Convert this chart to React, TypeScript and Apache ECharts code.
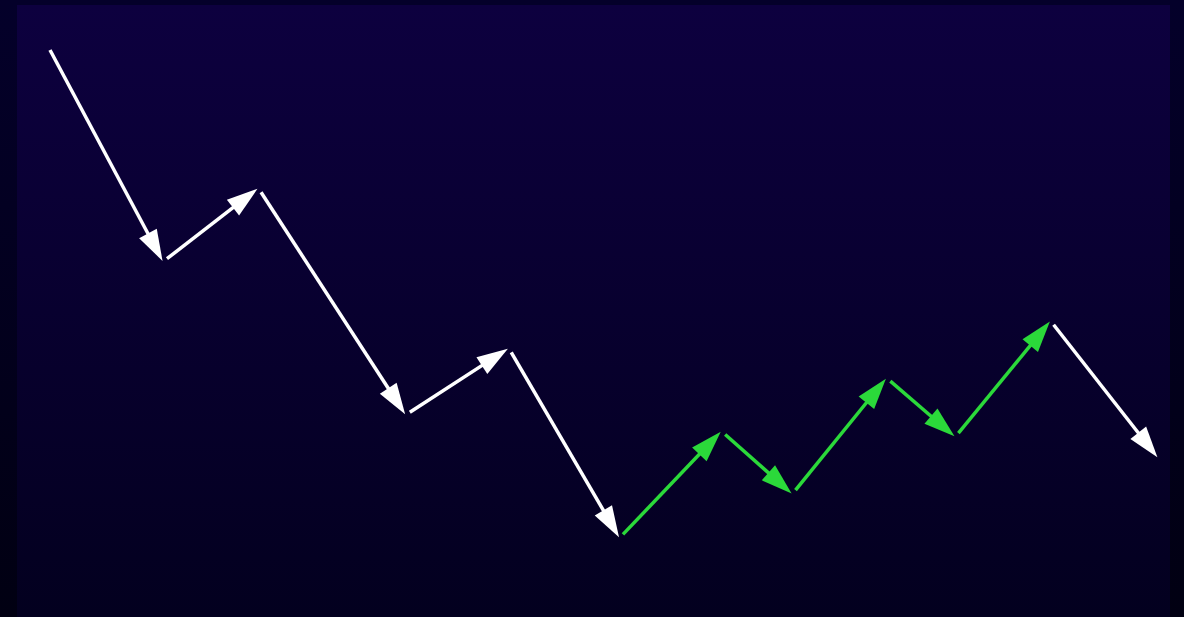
import React, { useEffect, useRef } from "react";
import * as echarts from "echarts";

// Zig-zag path: time (x) and price level (y) of each turning point
const times = [0, 10.2, 18.8, 32.1, 41.4, 51.4, 60.6, 67.0, 75.5, 81.7, 90.3, 100];
const levels = [100, 56.6, 71.7, 25.2, 38.9, 0, 21.9, 9.0, 32.8, 20.7, 44.5, 16.4];
// colour group of each leg (w = white, g = green)
const legKinds = ["w", "w", "w", "w", "w", "g", "g", "g", "g", "g", "w"];

const COLORS: Record<string, string> = { w: "#ffffff", g: "#2bd93a" };

export default function App() {
  const ref = useRef<HTMLDivElement>(null);
  useEffect(() => {
    document.body.style.margin = "0";
    const chart = echarts.init(ref.current!, null, { renderer: "svg" });
    const base: any = {
      animation: false,
      backgroundColor: new echarts.graphic.LinearGradient(0, 0, 0, 1, [
        { offset: 0, color: "#04002a" },
        { offset: 1, color: "#010012" },
      ]),
      graphic: [
        {
          type: "rect",
          z: -10,
          silent: true,
          shape: { x: 17, y: 5, width: 1153, height: 612 },
          style: {
            fill: new echarts.graphic.LinearGradient(0, 0, 0, 1, [
              { offset: 0, color: "#0d003f" },
              { offset: 1, color: "#03001f" },
            ]),
          },
        },
      ],
      grid: { left: 50, right: 26, top: 50, bottom: 79 },
      xAxis: { type: "value", min: 0, max: 100, show: false },
      yAxis: { type: "value", min: 0, max: 100, show: false },
      series: [],
    };
    chart.setOption(base);

    const headLen = 31;
    const headWidth = 20;
    const data = legKinds.map((k, i) => {
      const p0 = chart.convertToPixel({ gridIndex: 0 }, [times[i], levels[i]]) as number[];
      const p1 = chart.convertToPixel({ gridIndex: 0 }, [times[i + 1], levels[i + 1]]) as number[];
      const dx = p1[0] - p0[0];
      const dy = p1[1] - p0[1];
      const len = Math.hypot(dx, dy);
      const startGap = i === 0 ? 0 : 5;
      const endBack = 1 + headLen / 2;
      const s = [p0[0] + (dx / len) * startGap, p0[1] + (dy / len) * startGap];
      const e = [p1[0] - (dx / len) * endBack, p1[1] - (dy / len) * endBack];
      return {
        coords: [
          chart.convertFromPixel({ gridIndex: 0 }, s),
          chart.convertFromPixel({ gridIndex: 0 }, e),
        ],
        lineStyle: { color: COLORS[k] },
      };
    });

    chart.setOption({
      series: [
        {
          type: "lines",
          coordinateSystem: "cartesian2d",
          symbol: ["none", "triangle"],
          symbolSize: [1, [headWidth, headLen]],
          lineStyle: { width: 3.5, opacity: 1 },
          data,
        },
      ],
    });
    return () => chart.dispose();
  }, []);
  return <div ref={ref} style={{ width: 1184, height: 617 }} />;
}
